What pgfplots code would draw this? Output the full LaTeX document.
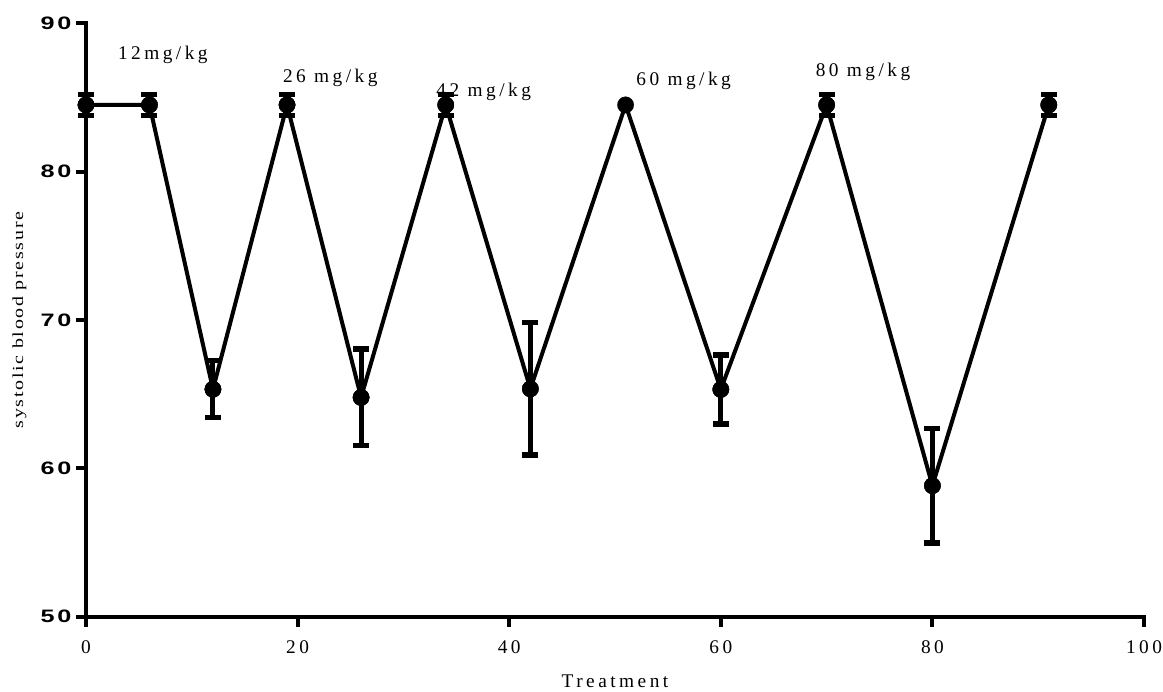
\documentclass[border=0pt]{standalone}
\usepackage{fontspec}
\setmainfont{Liberation Serif}
\newfontfamily\tsp[LetterSpace=18]{Liberation Serif}
\newfontfamily\lsp[LetterSpace=11,FakeStretch=1.3]{Liberation Serif}
\newfontfamily\ysp[LetterSpace=15,FakeStretch=1.4]{Liberation Sans Bold}
\usepackage{pgfplots}
\pgfplotsset{compat=1.18}
\pgfplotstableread{
x y e
0 84.5 0.7
6 84.5 0.7
12 65.33 1.92
19 84.5 0.7
26 64.78 3.26
34 84.5 0.7
42 65.36 4.45
51 84.5 0
60 65.32 2.32
70 84.5 0.7
80 58.83 3.86
91 84.5 0.7
}\sbpdata
\pgfplotstableread{
x y e
0 84.5 0.7
6 84.5 0.7
12 65.33 1.92
19 84.5 0.7
26 64.78 3.26
34 84.5 0.7
42 65.36 4.45
60 65.32 2.32
70 84.5 0.7
80 58.83 3.86
91 84.5 0.7
}\sbperr
\begin{document}
\begin{tikzpicture}
\useasboundingbox (-64.5pt,-56.5pt) rectangle (807.75pt,462.5pt);
\begin{axis}[
  at={(0,0)}, anchor=south west,
  width=793.5pt, height=445pt, scale only axis,
  xmin=0, xmax=100, ymin=50, ymax=90,
  axis x line*=bottom, axis y line*=left,
  axis line style={line width=3pt, line cap=rect},
  xtick={0,20,...,100}, ytick={50,60,...,90},
  minor tick num=0,
  tick style={line width=3pt, black},
  tick align=outside, major tick length=7.5pt,
  /pgf/number format/assume math mode=true,
  xticklabel style={font=\tsp\fontsize{14.5}{14.5}\selectfont, anchor=base, yshift=-20pt},
  yticklabel style={font=\ysp\fontsize{13.5}{13.5}\selectfont, anchor=east},
  xlabel={Treatment},
  xlabel style={font=\tsp\fontsize{14.5}{14.5}\selectfont, at={(axis description cs:0.5,-0.1198)}, anchor=base},
  ylabel={systolic blood pressure},
  ylabel style={font=\lsp\fontsize{11.5}{11.5}\selectfont, at={(axis description cs:-0.063,0.5)}, anchor=center},
  clip=false,
]
\addplot[black, line width=3pt, mark=*, mark size=6.2pt, mark options={line width=0.1pt, fill=black}]
  table[x=x, y=y] {\sbpdata};
\addplot[black, only marks, mark=*, mark size=6.2pt, mark options={line width=0.1pt, fill=black},
  error bars/.cd, y dir=both, y explicit,
  error bar style={line width=3.8pt, black},
  error mark options={rotate=90, line width=4pt, mark size=6pt, black}]
  table[x=x, y=y, y error=e] {\sbperr};
\node[inner sep=0pt, anchor=base west, font=\tsp\fontsize{14.5}{14.5}\selectfont] at (axis cs:3.0,87.53) {12mg/kg};
\node[inner sep=0pt, anchor=base west, font=\tsp\fontsize{14.5}{14.5}\selectfont] at (axis cs:18.6,86.02) {26 mg/kg};
\node[inner sep=0pt, anchor=base west, font=\tsp\fontsize{14.5}{14.5}\selectfont] at (axis cs:33.1,85.1) {42 mg/kg};
\node[inner sep=0pt, anchor=base west, font=\tsp\fontsize{14.5}{14.5}\selectfont] at (axis cs:52.0,85.84) {60 mg/kg};
\node[inner sep=0pt, anchor=base west, font=\tsp\fontsize{14.5}{14.5}\selectfont] at (axis cs:68.95,86.4) {80 mg/kg};
\end{axis}
\end{tikzpicture}
\end{document}
